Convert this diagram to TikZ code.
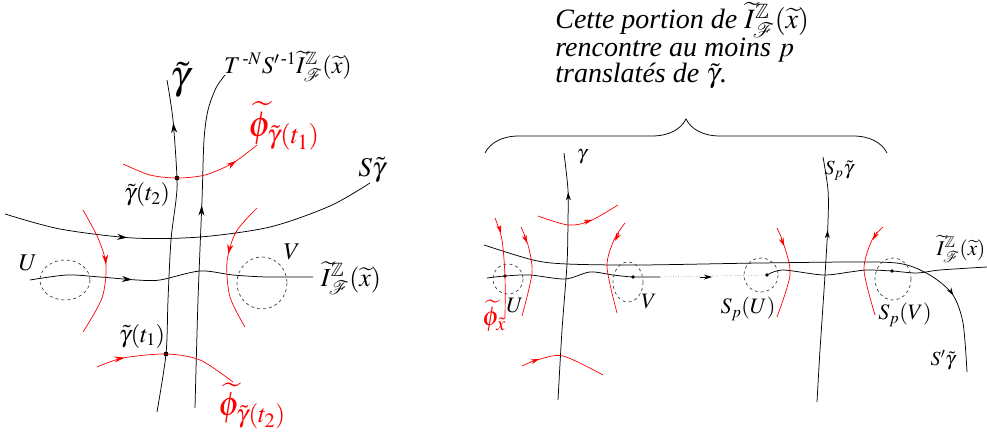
\documentclass[tikz,border=0pt]{standalone}
\usepackage{amsmath,amssymb}
\usepackage{mathptmx}
\usepackage{fontspec}
\setmainfont{Liberation Serif}
\usetikzlibrary{arrows.meta,decorations.markings,decorations.pathreplacing}
\newcommand{\fs}[1]{\fontsize{#1}{#1}\selectfont}
\tikzset{
  arr/.style={postaction={decorate},decoration={markings,
      mark=at position #1 with {\arrow{Stealth[length=10pt,width=6pt]}}}},
  sarr/.style={postaction={decorate},decoration={markings,
      mark=at position #1 with {\arrow{Stealth[length=8pt,width=5pt]}}}},
  tip/.style={-{Stealth[length=8pt,width=5pt]}},
  flow/.style={red,line width=0.7pt},
  nbhd/.style={dashed,black!75,line width=0.7pt},
  ptdot/.style={circle,fill,inner sep=1.7pt},
  lbig/.style={font=\fs{24}},
  lsmall/.style={font=\fs{20}},
}
\begin{document}
\begin{tikzpicture}[x=1pt,y=-1pt,line width=0.75pt]
\useasboundingbox (0,0) rectangle (987,435);

\node[ptdot] (t2) at (177,178) {};
\node[ptdot] (t1) at (166,354) {};

\draw[arr=0.87] plot[smooth] coordinates {(157,412) (t1.center) (168,300) (171,240) (176,200) (t2.center) (173,120) (167,80)};
\draw[arr=0.6] plot[smooth] coordinates {(195,408) (198,300) (202,200) (204,140) (208,110) (216,88) (225,75)};
\draw[arr=0.33] plot[smooth] coordinates {(5,214) (60,229) (133,238) (200,237) (270,227) (330,206) (370,183)};
\draw[arr=0.36] plot[smooth] coordinates {(30,280) (67,275) (100,277) (137,280) (160,280) (200,271) (233,275) (267,277) (313,277)};

\draw[nbhd] (65,280) ellipse [x radius=25, y radius=20];
\draw[nbhd] (262,283) ellipse [x radius=25, y radius=26];

\draw[flow,arr=0.82] plot[smooth] coordinates {(123,164) (150,175) (t2.center) (205,175) (233,163) (257,145)};
\draw[flow,arr=0.2] plot[smooth] coordinates {(97,367) (123,358) (t1.center) (200,360) (233,382)};
\draw[flow,arr=0.45] plot[smooth] coordinates {(83,210) (98,238) (106,265) (102,298) (83,332)};
\draw[flow,arr=0.42] plot[smooth] coordinates {(257,208) (236,232) (227,262) (230,297) (245,327)};

\node[font=\fs{40}] (gam) at (180,80) {$\tilde{\gamma}$};
\node[lbig] (tns) at (288,66) {$T^{\,\text{-}N}S'^{\,\text{-}1}\widetilde{I}^{\mathbb{Z}}_{\mathcal{F}}(\widetilde{x})$};
\node[font=\fs{36},red] (phi1) at (284,126) {$\widetilde{\phi}_{\tilde{\gamma}(t_1)}$};
\node[lbig] (lt2) at (147,195) {$\tilde{\gamma}(t_2)$};
\node[font=\fs{27}] (sg) at (372,170) {$S\tilde{\gamma}$};
\node[lbig] (lu) at (28,263) {$U$};
\node[lbig] (lv) at (292,252) {$V$};
\node[font=\fs{26}] (li) at (351,278) {$\widetilde{I}^{\mathbb{Z}}_{\mathcal{F}}(\widetilde{x})$};
\node[lbig] (lt1) at (142,336) {$\tilde{\gamma}(t_1)$};
\node[font=\fs{34},red] (phi2) at (252,406) {$\widetilde{\phi}_{\tilde{\gamma}(t_2)}$};

\node[font=\fontsize{28}{24.5}\selectfont,align=left,anchor=base west,inner sep=0pt] (txt) at (555,83)
  {\itshape Cette portion de $\widetilde{I}^{\mathbb{Z}}_{\mathcal{F}}(\widetilde{x})$\\
   \itshape rencontre au moins $p$\\
   \itshape translatés de $\tilde{\gamma}$.};
\draw[decorate,decoration={brace,amplitude=34pt}] (485,153) -- (887,153);

\node[ptdot,inner sep=1.4pt] (pu) at (505,276) {};
\node[ptdot,inner sep=1.4pt] (pv) at (633,277) {};
\node[ptdot,inner sep=1.4pt] (spu) at (767,275) {};
\node[ptdot,inner sep=1.4pt] (spv) at (892,271) {};

\draw[sarr=0.84] plot[smooth] coordinates {(558,400) (562,330) (567,264) (568,220) (568,190) (564,153)};
\draw[sarr=0.7] plot[smooth] coordinates {(817,402) (820,350) (825,275) (828,222) (828,190) (823,157)};
\draw[sarr=0.86] plot[smooth] coordinates {(484,245) (533,260) (567,264) (640,265) (760,263) (873,262) (907,265) (933,277) (953,295) (963,323) (967,372)};
\draw plot[smooth] coordinates {(487,278) (pu.center) (530,275) (565,279) (590,272) (613,275) (pv.center) (660,277)};
\draw[dotted,black!50,line width=0.6pt] (660,277) -- (spu.center);
\draw[tip] (700,277) -- (712,277);
\draw plot[smooth] coordinates {(spu.center) (783,270) (823,275) (850,272) (867,270) (spv.center) (917,273) (940,270) (987,267)};

\draw[nbhd] (508,279) ellipse [x radius=15, y radius=15];
\draw[nbhd] (628,282) ellipse [x radius=15, y radius=20];
\draw[nbhd] (761,275) ellipse [x radius=17, y radius=17];
\draw[nbhd] (893,279) ellipse [x radius=18, y radius=21];

\draw[flow] plot[smooth] coordinates {(495,218) (502,240) (505,277) (505,318)};
\draw[flow] plot[smooth] coordinates {(521,227) (528,245) (532,273) (522,316)};
\draw[flow] plot[smooth] coordinates {(538,216) (568,225) (590,221) (618,205)};
\draw[flow] plot[smooth] coordinates {(522,366) (537,360) (563,356) (603,375)};
\draw[flow] plot[smooth] coordinates {(625,223) (614,240) (607,267) (617,313)};
\draw[flow] plot[smooth] coordinates {(777,228) (784,245) (790,275) (777,317)};
\draw[flow] plot[smooth] coordinates {(883,227) (872,240) (864,270) (875,315)};
\draw[flow,tip] (499,226) -- (501,233);
\draw[flow,tip] (524,235) -- (527,243);
\draw[flow,tip] (584,222.5) -- (592,220);
\draw[flow,tip] (531,362) -- (539,359);
\draw[flow,tip] (619,233) -- (615,241);
\draw[flow,tip] (781,238) -- (784,246);
\draw[flow,tip] (877,232) -- (873,240);

\node[lsmall] (rg) at (582,157) {$\gamma$};
\node[lsmall] (rspg) at (839,171) {$S_p\tilde{\gamma}$};
\node[font=\fs{27},red] (rphi) at (494,316) {$\widetilde{\phi}_{\tilde{x}}$};
\node[font=\fs{22}] (ru) at (515,306) {$U$};
\node[font=\fs{22}] (rv) at (649,302) {$V$};
\node[font=\fs{22}] (rspu) at (748,309) {$S_p(U)$};
\node[font=\fs{22}] (rspv) at (905,315) {$S_p(V)$};
\node[font=\fs{20}] (rsg) at (943,360) {$S'\tilde{\gamma}$};
\node[font=\fs{21}] (ri) at (961,249) {$\widetilde{I}^{\mathbb{Z}}_{\mathcal{F}}(\widetilde{x})$};
\end{tikzpicture}
\end{document}
